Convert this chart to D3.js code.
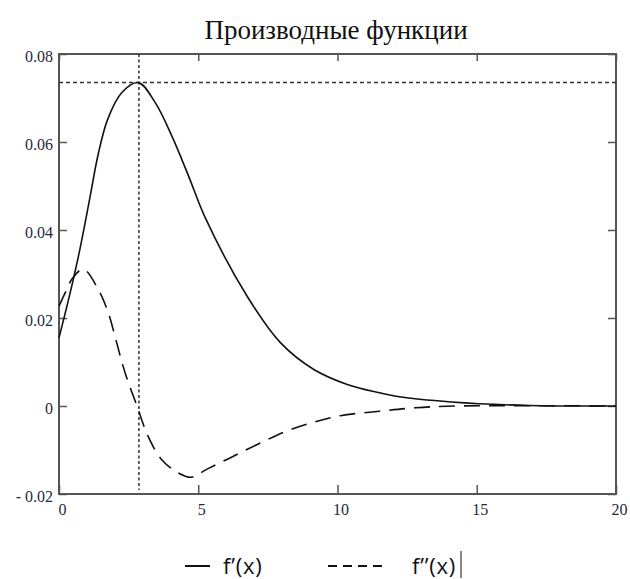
<!DOCTYPE html>
<html>
    <head>
        <meta charset="utf-8">
    </head>
<style>
body {
    margin: 0;
    background: white;
}
.axis text {
    font-family: "Liberation Serif", "DejaVu Serif", serif;
    font-size: 16px;
    fill: #1f2a3a;
}
.axis line {
    stroke: #555;
    stroke-width: 1.5;
}
.title {
    font-family: "Liberation Serif", "DejaVu Serif", serif;
    font-size: 27px;
    fill: #111;
}
.legend text {
    font-family: "Open Sans", sans-serif;
    font-size: 22px;
    letter-spacing: 0.8px;
    fill: #111;
}
</style>
<body>
<script src="https://d3js.org/d3.v7.min.js"></script>
<script>

// first derivative f'(x)
var d1X = [0, 0.4, 0.75, 1.1, 1.4, 1.75, 2.25, 2.85, 3.45, 4.05, 4.65, 5.25, 6.75, 7.95, 9.15, 10.35, 11.5, 12.1, 14.1, 16.9, 20];
var d1Y = [0.0155, 0.0257, 0.0356, 0.0470, 0.0570, 0.0652, 0.0712, 0.0735, 0.0690, 0.0614, 0.0523, 0.0428, 0.0250, 0.0144, 0.0083, 0.0049, 0.0030, 0.0022, 0.0009, 0.0001, 0];

// second derivative f''(x)
var d2X = [0, 0.28, 0.46, 0.87, 1.41, 1.77, 2.07, 2.37, 2.8, 3.2, 3.69, 4.28, 4.75, 5.3, 6.14, 7.1, 8.17, 9.13, 10.1, 11.5, 12.8, 14.3, 20];
var d2Y = [0.0227, 0.0265, 0.0288, 0.0311, 0.0265, 0.0212, 0.0144, 0.0076, 0.0, -0.0069, -0.0122, -0.0152, -0.0162, -0.0144, -0.0118, -0.0088, -0.0057, -0.0037, -0.0022, -0.0012, -0.0004, 0, 0];

// maximum of f'(x) marked by the dotted lines
var peakX = 2.87;
var peakY = 0.0735;

var xTicks = [0, 5, 10, 15, 20];
var yTicks = [-0.02, 0, 0.02, 0.04, 0.06, 0.08];

var legendLabels = ["f\u2019(x)", "f\u2019\u2019(x)"];

var W = 630, H = 579;
var margin = {top: 54, right: 14, bottom: 85, left: 59};

var svg = d3.select("body")
    .append("svg")
        .attr("width", W)
        .attr("height", H);

var x = d3.scaleLinear()
    .domain([0, 20])
    .range([margin.left, W - margin.right]);

var y = d3.scaleLinear()
    .domain([-0.02, 0.08])
    .range([H - margin.bottom, margin.top]);

// title
svg.append("text")
    .attr("class", "title")
    .attr("x", 336)
    .attr("y", 39)
    .attr("text-anchor", "middle")
    .text("Производные функции");

// axes, ticks pointing inwards
var fmtY = function(d) {
    if (d === 0) return "0";
    if (d < 0) return "- " + Math.abs(d).toFixed(2);
    return d.toFixed(2);
};

var yAxis = svg.append("g")
    .attr("class", "axis")
    .attr("transform", "translate(" + x(0) + ",0)")
    .call(d3.axisLeft(y).tickValues(yTicks).tickFormat(fmtY).tickSize(-8).tickPadding(6));
yAxis.selectAll("text").attr("dy", "0.45em");

svg.append("g")
    .attr("class", "axis")
    .attr("transform", "translate(" + x(20) + ",0)")
    .call(d3.axisRight(y).tickValues(yTicks).tickFormat("").tickSize(-8));

var xAxis = svg.append("g")
    .attr("class", "axis")
    .attr("transform", "translate(0," + y(-0.02) + ")")
    .call(d3.axisBottom(x).tickValues(xTicks).tickFormat(d3.format("d")).tickSize(-9).tickPadding(10));
xAxis.selectAll("text").attr("dx", 3);

svg.append("g")
    .attr("class", "axis")
    .attr("transform", "translate(0," + y(0.08) + ")")
    .call(d3.axisTop(x).tickValues(xTicks).tickFormat("").tickSize(-7));

svg.selectAll(".axis .domain").remove();
svg.selectAll(".axis").attr("font-family", null).attr("font-size", null);

// frame
svg.append("rect")
    .attr("x", x(0))
    .attr("y", y(0.08))
    .attr("width", x(20) - x(0))
    .attr("height", y(-0.02) - y(0.08))
    .attr("fill", "none")
    .attr("stroke", "#555")
    .attr("stroke-width", 2);

// dotted marker lines
svg.append("line")
    .attr("x1", x(0)).attr("x2", x(20))
    .attr("y1", y(peakY)).attr("y2", y(peakY))
    .attr("stroke", "#333")
    .attr("stroke-width", 1.5)
    .attr("stroke-dasharray", "4,3");

svg.append("line")
    .attr("x1", x(peakX)).attr("x2", x(peakX))
    .attr("y1", y(0.08)).attr("y2", y(-0.02) - 4)
    .attr("stroke", "#333")
    .attr("stroke-width", 1.5)
    .attr("stroke-dasharray", "3,2.5");

// curves
var line = d3.line()
    .x(function(d) { return x(d[0]); })
    .y(function(d) { return y(d[1]); })
    .curve(d3.curveCatmullRom.alpha(0.5));

var s1 = d1X.map(function(v, i) { return [v, d1Y[i]]; });
var s2 = d2X.map(function(v, i) { return [v, d2Y[i]]; });

svg.append("path")
    .datum(s1)
    .attr("d", line)
    .attr("fill", "none")
    .attr("stroke", "#111")
    .attr("stroke-width", 1.6);

svg.append("path")
    .datum(s2)
    .attr("d", line)
    .attr("fill", "none")
    .attr("stroke", "#111")
    .attr("stroke-width", 1.6)
    .attr("stroke-dasharray", "16,9");

// legend
var legend = svg.append("g").attr("class", "legend");

legend.append("line")
    .attr("x1", 185).attr("x2", 210)
    .attr("y1", 566).attr("y2", 566)
    .attr("stroke", "#111")
    .attr("stroke-width", 2);

legend.append("text")
    .attr("x", 223)
    .attr("y", 574)
    .text(legendLabels[0]);

legend.append("line")
    .attr("x1", 328).attr("x2", 383)
    .attr("y1", 566).attr("y2", 566)
    .attr("stroke", "#111")
    .attr("stroke-width", 2)
    .attr("stroke-dasharray", "9,6");

legend.append("text")
    .attr("x", 412)
    .attr("y", 574)
    .text(legendLabels[1]);

// text cursor after the second label
legend.append("line")
    .attr("x1", 461).attr("x2", 461)
    .attr("y1", 551).attr("y2", 578)
    .attr("stroke", "#111")
    .attr("stroke-width", 1);

</script>
</body>
</html>
